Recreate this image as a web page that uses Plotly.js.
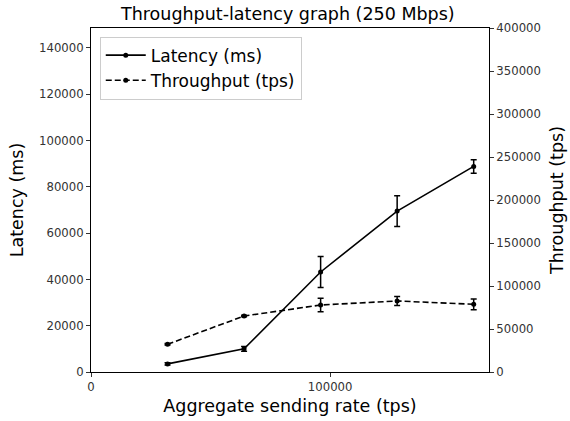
<!DOCTYPE html>
<html>
<head>
<meta charset="utf-8">
<script src="https://cdn.plot.ly/plotly-3.0.1.min.js"></script>
<style>html,body{margin:0;padding:0;background:#fff;}#chart{width:570px;height:421px;}</style>
</head>
<body>
<div id="chart"></div>
<script>
// Data
const sendingRate = [32000, 64000, 96000, 128000, 160000];
const latency = [3500, 10000, 43200, 69500, 88800];
const latencyErr = [500, 1000, 6700, 6600, 2900];
const throughput = [32200, 65100, 77900, 82600, 78700];
const throughputErr = [800, 1000, 7800, 5200, 6200];

const xTicks = [0, 100000];
const yLeftTicks = [0, 20000, 40000, 60000, 80000, 100000, 120000, 140000];
const yRightTicks = [0, 50000, 100000, 150000, 200000, 250000, 300000, 350000, 400000];

const font = "DejaVu Sans, sans-serif";

const traces = [
  {
    x: sendingRate, y: latency, name: "Latency (ms)", type: "scatter", mode: "lines+markers",
    line: {color: "#000", width: 1.6, dash: "solid"},
    marker: {color: "#000", size: 5},
    error_y: {type: "data", array: latencyErr, visible: true, color: "#000", thickness: 1.5, width: 3},
    yaxis: "y"
  },
  {
    x: sendingRate, y: throughput, name: "Throughput (tps)", type: "scatter", mode: "lines+markers",
    line: {color: "#000", width: 1.6, dash: "6px,3px"},
    marker: {color: "#000", size: 5},
    error_y: {type: "data", array: throughputErr, visible: true, color: "#000", thickness: 1.5, width: 3},
    yaxis: "y2"
  }
];

const axisCommon = {
  showgrid: false, zeroline: false, showline: true, linecolor: "#000", linewidth: 1,
  ticks: "outside", ticklen: 4, tickcolor: "#333", tickwidth: 1,
  tickfont: {family: font, size: 11.7, color: "#333"}
};

const layout = {
  width: 570, height: 421,
  margin: {l: 91, r: 81, t: 28, b: 49, pad: 0},
  paper_bgcolor: "#fff", plot_bgcolor: "#fff",
  title: {text: "Throughput-latency graph (250 Mbps)", font: {family: font, size: 17.5, color: "#000"}, x: 0.505, xanchor: "center", y: 0.982, yanchor: "top"},
  showlegend: true,
  legend: {
    x: 0.022, y: 0.975, xanchor: "left", yanchor: "top",
    bgcolor: "rgba(255,255,255,0.8)", bordercolor: "#ccc", borderwidth: 1,
    font: {family: font, size: 17, color: "#000"}, tracegroupgap: 0, itemwidth: 40
  },
  xaxis: Object.assign({}, axisCommon, {
    range: [0, 166400], tickvals: xTicks, ticktext: xTicks.map(String), mirror: true,
    title: {text: "Aggregate sending rate (tps)", font: {family: font, size: 17.5, color: "#000"}, standoff: 6}
  }),
  yaxis: Object.assign({}, axisCommon, {
    range: [0, 148600], tickvals: yLeftTicks, ticktext: yLeftTicks.map(String),
    title: {text: "Latency (ms)", font: {family: font, size: 17.5, color: "#000"}, standoff: 10}
  }),
  yaxis2: Object.assign({}, axisCommon, {
    range: [0, 400000], tickvals: yRightTicks, ticktext: yRightTicks.map(String),
    overlaying: "y", side: "right",
    title: {text: "Throughput (tps)", font: {family: font, size: 17.5, color: "#000"}, standoff: 10}
  })
};

Plotly.newPlot("chart", traces, layout, {displayModeBar: false, staticPlot: true});
</script>
</body>
</html>
